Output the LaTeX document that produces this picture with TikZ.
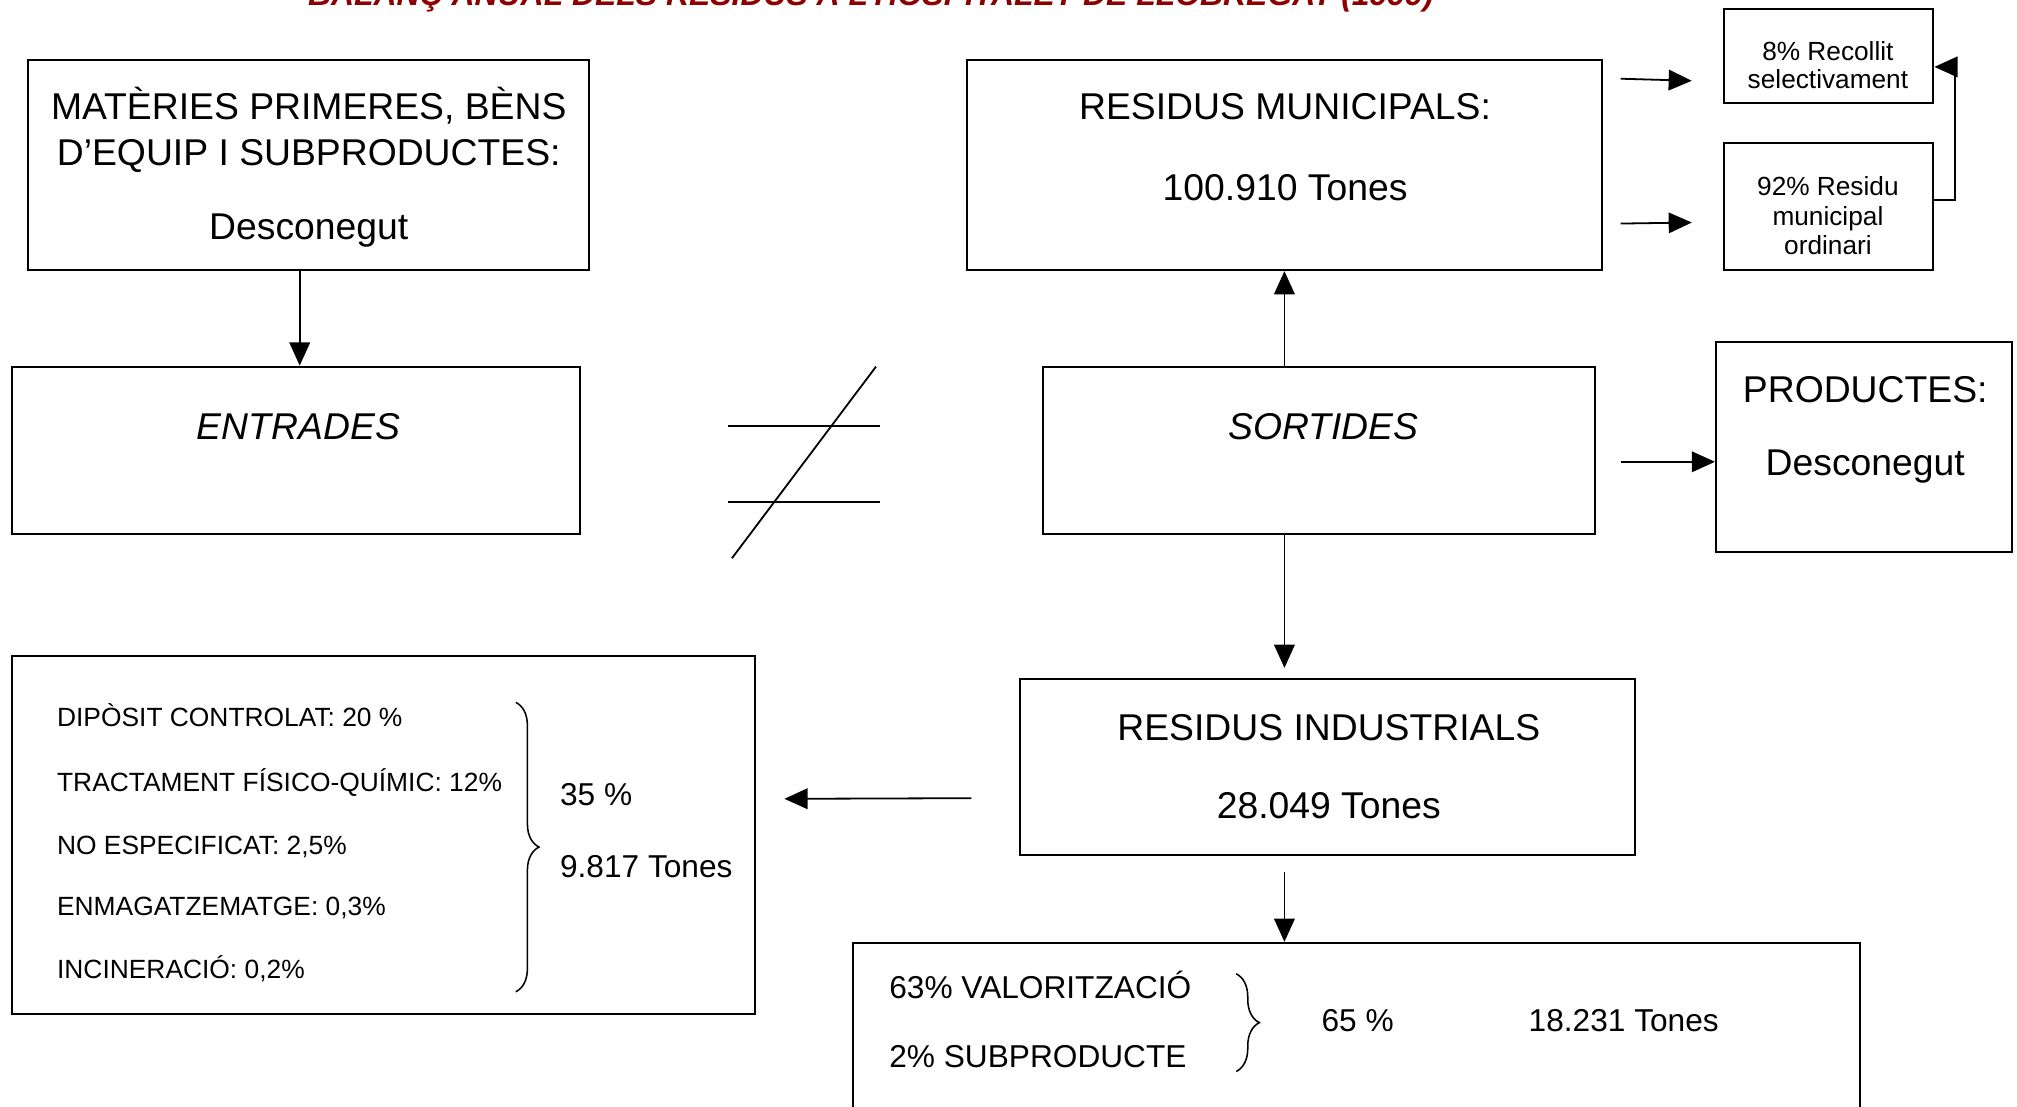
\documentclass[tikz,border=0pt]{standalone}
\usepackage{fontspec}
\setmainfont{Liberation Sans}
\usetikzlibrary{arrows.meta,fit,decorations.pathreplacing}
\definecolor{titlered}{RGB}{140,0,0}
\begin{document}
\begin{tikzpicture}[x=0.5pt,y=-0.5pt,
  box/.style={draw,line width=0.8pt,inner sep=0pt},
  arr/.style={line width=0.7pt,-{Triangle[length=9pt,width=8pt]}},
  big/.style={font=\fontsize{14.5}{16}\selectfont,anchor=base,inner sep=0pt},
  mid/.style={font=\fontsize{12.3}{14}\selectfont,anchor=base west,inner sep=0pt},
  lst/.style={font=\fontsize{10.25}{12}\selectfont,anchor=base west,inner sep=0pt},
  sml/.style={font=\fontsize{10.2}{11.5}\selectfont,anchor=base,inner sep=0pt,align=center},
  brc/.style={line width=0.6pt,decorate,decoration={brace,amplitude=9pt}},
  neq/.style={line width=0.7pt}
]
\useasboundingbox (0,0) rectangle (1568,860);

% title (cut at the top, as in the original)
\node[font=\fontsize{12.4}{14}\bfseries\itshape\selectfont,text=titlered,anchor=base,inner sep=0pt] (title) at (677,4)
  {BALANÇ ANUAL DELS RESIDUS A L’HOSPITALET DE LLOBREGAT (1999)};

% boxes
\node[box,fit={(22,47) (458,210)}] (mat) {};
\node[box,fit={(9,285) (451,415)}] (ent) {};
\node[box,fit={(811,285) (1240,415)}] (sor) {};
\node[box,fit={(752,47) (1245,210)}] (mun) {};
\node[box,fit={(1340,7) (1503,80)}] (rec) {};
\node[box,fit={(1340,111) (1503,210)}] (ord) {};
\node[box,fit={(1334,266) (1564,429)}] (prod) {};
\node[box,fit={(793,528) (1271,665)}] (ind) {};
\node[box,fit={(9,510) (587,788)}] (lft) {};
\node[box,fit={(663,733) (1446,900)}] (bot) {};

% texts
\node[big] (matA) at (240,93) {MATÈRIES PRIMERES, BÈNS};
\node[big] (matB) at (240,129) {D’EQUIP I SUBPRODUCTES:};
\node[big] (matC) at (240,186) {Desconegut};
\node[big,font=\fontsize{14.5}{16}\selectfont\itshape] (entT) at (232,342) {ENTRADES};
\node[big,font=\fontsize{14.5}{16}\selectfont\itshape] (sorT) at (1029,342) {SORTIDES};
\node[big] (munA) at (999,93) {RESIDUS MUNICIPALS:};
\node[big] (munB) at (999,156) {100.910 Tones};
\node[big] (prodA) at (1450,313) {PRODUCTES:};
\node[big] (prodB) at (1450,370) {Desconegut};
\node[big] (indA) at (1033,576) {RESIDUS INDUSTRIALS};
\node[big] (indB) at (1033,636) {28.049 Tones};
\node[sml] (recA) at (1421,47) {8\% Recollit};
\node[sml] (recB) at (1421,69) {selectivament};
\node[sml] (ordA) at (1421,152) {92\% Residu};
\node[sml] (ordB) at (1421,175) {municipal};
\node[sml] (ordC) at (1421,198) {ordinari};

\node[lst] (l1) at (44,565) {DIPÒSIT CONTROLAT: 20 \%};
\node[lst] (l2) at (44,615) {TRACTAMENT FÍSICO-QUÍMIC: 12\%};
\node[lst] (l3) at (44,664) {NO ESPECIFICAT: 2,5\%};
\node[lst] (l4) at (44,712) {ENMAGATZEMATGE: 0,3\%};
\node[lst] (l5) at (44,761) {INCINERACIÓ: 0,2\%};
\node[mid] (lp) at (435,626) {35 \%};
\node[mid] (lt) at (435,682) {9.817 Tones};

\node[mid] (b1) at (691,776) {63\% VALORITZACIÓ};
\node[mid] (b2) at (691,830) {2\% SUBPRODUCTE};
\node[mid] (bp) at (1027,802) {65 \%};
\node[mid] (bt) at (1188,802) {18.231 Tones};

% braces
\draw[brc] (401,546) -- (401,771);
\draw[brc] (961,757) -- (961,833);

% not-equal sign
\draw[neq] (566,331) -- (684,331);
\draw[neq] (566,390) -- (684,390);
\draw[neq] (569,434) -- (681,285);

% connectors
\draw[arr] ([xshift=-3.5pt]mat.south) -- ([xshift=-3.5pt]mat.south |- ent.north);
\draw[arr] (mun.south |- sor.north) -- (mun.south);
\draw[arr] (mun.south |- sor.south) -- ([yshift=4pt]mun.south |- ind.north);
\draw[arr] ([yshift=-6pt]mun.south |- ind.south) -- (mun.south |- bot.north);
\draw[arr] ([xshift=-18.5pt,yshift=-12pt]ind.west) -- ([xshift=11pt,yshift=14pt]lft.east);
\draw[arr] ([xshift=7pt,yshift=-7.5pt]mun.north east) -- ([xshift=-12pt,yshift=9pt]rec.south west);
\draw[arr] ([xshift=7pt,yshift=18.5pt]mun.south east) -- ([xshift=-12pt,yshift=-6.25pt]ord.west);
\draw[arr] ([xshift=9.5pt,yshift=-4.5pt]sor.east) -- ([yshift=-5.75pt]prod.west);
\draw[arr] ([yshift=2.5pt]ord.east) -- ++(8pt,0) |- ([yshift=-4.25pt]rec.east);
\end{tikzpicture}
\end{document}
